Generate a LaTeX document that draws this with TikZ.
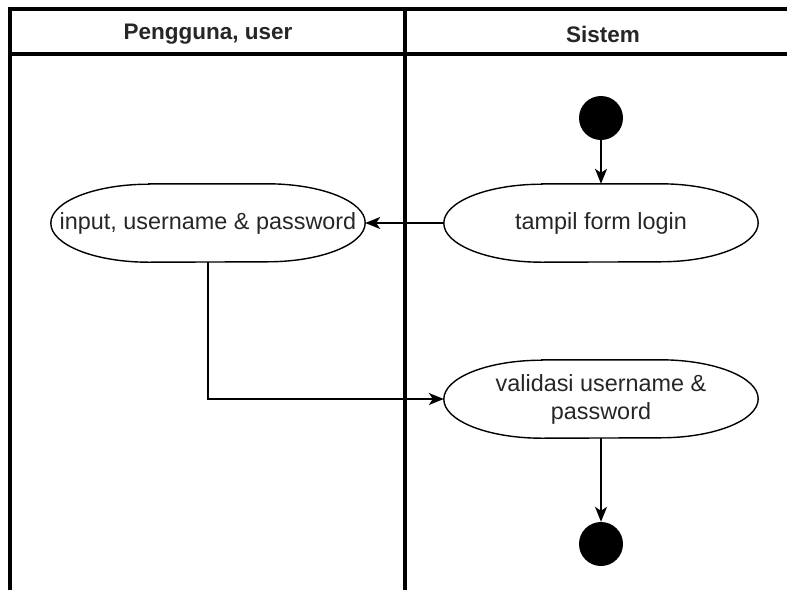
\documentclass[tikz,border=0pt]{standalone}
\usepackage{fontspec}
\setmainfont{Liberation Sans}
\usetikzlibrary{arrows.meta}

% rounded activity outline with elliptical ends, drawn round a named node
\newcommand\activityoutline[1]{%
  \draw[actline] ([xshift=98pt]#1.north west) -- ([xshift=-98pt]#1.north east)
    arc[start angle=90,end angle=-90,x radius=98pt,y radius=39pt]
    -- ([xshift=98pt]#1.south west)
    arc[start angle=270,end angle=90,x radius=98pt,y radius=39pt] -- cycle;}

\begin{document}
\begin{tikzpicture}[x=1pt,y=-1pt,
  lane/.style={line width=3.1pt,black},
  lanetitle/.style={font=\fontsize{22.5}{27}\selectfont\bfseries,text=black!85,inner sep=0pt},
  actnode/.style={draw=none,inner sep=0pt,minimum width=314pt,minimum height=78pt,
    align=center,text=black!85,font=\fontsize{23.4}{28}\selectfont},
  actline/.style={line width=1.4pt,black},
  flow/.style={line width=1.5pt,black,-{Stealth[length=15pt,width=12pt,inset=4pt]}},
  dot/.style={circle,fill=black,draw=none,minimum size=44pt,inner sep=0pt}]

  \useasboundingbox (0,0) rectangle (787,590);

  % swimlane frame
  \draw[lane] (10,590) -- (10,9) -- (787,9);
  \draw[lane] (10,54) -- (787,54);
  \draw[lane] (405,9) -- (405,590);

  \node[lanetitle] (laneuser) at (208,34) {Pengguna, user};
  \node[lanetitle] (lanesys)  at (603,34) {Sistem};

  % activity nodes
  \node[dot] (start) at (601,118) {};
  \node[actnode] (login) at (601,223) {tampil form login};
  \node[actnode] (input) at (208,223) {input, username \& password};
  \node[actnode] (valid) at (601,399) {validasi username \&\\password};
  \node[dot] (stop) at (601,544) {};

  \activityoutline{login}
  \activityoutline{input}
  \activityoutline{valid}

  % control flow
  \draw[flow] (start) -- (login.north);
  \draw[flow] (login.west) -- (input.east);
  \draw[flow] (input.south) |- (valid.west);
  \draw[flow] (valid.south) -- (stop.north);
\end{tikzpicture}
\end{document}
